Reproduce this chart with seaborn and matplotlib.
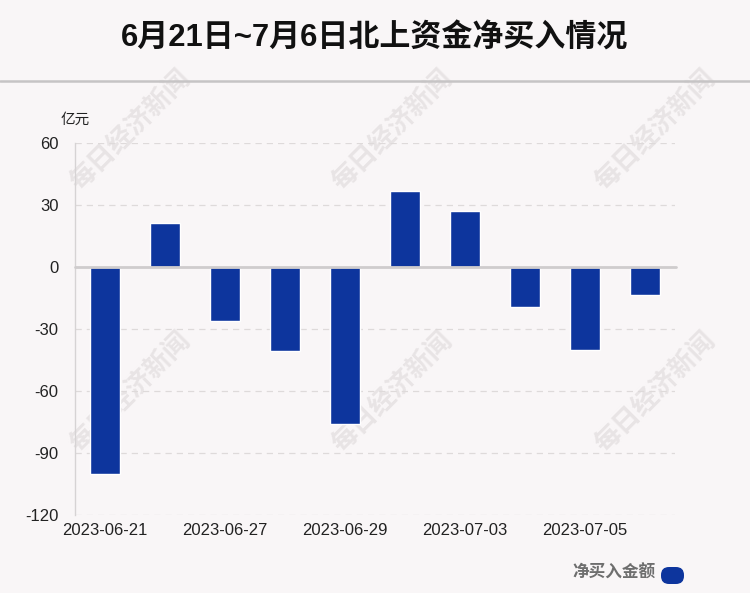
import matplotlib
matplotlib.use("Agg")
import matplotlib.pyplot as plt
import seaborn as sns
import pandas as pd
from matplotlib.lines import Line2D
from matplotlib.patches import FancyBboxPatch
from matplotlib.transforms import IdentityTransform

# -------------------------------
# Data
# -------------------------------

dates = ["2023-06-21", "2023-06-26", "2023-06-27", "2023-06-28", "2023-06-29",
         "2023-06-30", "2023-07-03", "2023-07-04", "2023-07-05", "2023-07-06"]
net_buy = [-100.0, 21.1, -26.0, -40.8, -76.1, 36.8, 26.9, -19.5, -40.3, -13.4]
y_ticks = [60, 30, 0, -30, -60, -90, -120]

df = pd.DataFrame({"date": dates, "net_buy": net_buy})

# -------------------------------
# Style
# -------------------------------

BG = "#f9f6f7"
BAR = "#0d359d"
sns.set_style("white")
plt.rcParams["font.family"] = ["Liberation Sans", "Noto Sans CJK SC", "DejaVu Sans"]

fig = plt.figure(figsize=(7.5, 5.93), dpi=100, facecolor=BG)
ax = fig.add_axes([0.1, 0.1315, 0.8, 0.6274])
ax.set_facecolor("none")

sns.barplot(data=df, x="date", y="net_buy", color=BAR, width=0.5,
            saturation=1, ax=ax, zorder=3)

ax.set_xlim(-0.5, len(dates) - 0.5)
ax.set_ylim(-120, 60)
ax.set_yticks(y_ticks)
ax.set_yticklabels([str(t) for t in y_ticks], fontsize=12, color="#222222")
ax.set_xticks(range(0, len(dates), 2))
ax.set_xticklabels(dates[::2], fontsize=12, color="#222222")
ax.tick_params(axis="both", length=0)
ax.tick_params(axis="y", pad=12)
ax.tick_params(axis="x", pad=6)
ax.set_xlabel("")
ax.set_ylabel("")

for t in y_ticks:
    if t != 0:
        ax.axhline(t, color="#dedada", lw=0.9, ls=(0, (5, 4)), zorder=1)
ax.axhline(0, color="#cfcccd", lw=2, zorder=4, xmax=1.002, clip_on=False)

for side in ["top", "right", "bottom"]:
    ax.spines[side].set_visible(False)
ax.spines["left"].set_color("#d6d3d4")
ax.spines["left"].set_linewidth(1)

ax.text(0.0, 1 + 23 / 372, "亿元", transform=ax.transAxes, ha="center", va="center",
        fontsize=10.5, color="#222222")

# -------------------------------
# Title and decorations
# -------------------------------

fig.text(0.5, 0.935, "6月21日~7月6日北上资金净买入情况", ha="center", va="center",
         fontsize=22.3, fontweight="bold", color="#111111")
fig.add_artist(Line2D([0, 1], [1 - 81 / 593, 1 - 81 / 593], transform=fig.transFigure,
                      color="#c6c4c5", lw=1.8))

wm_pos = [(130, 130), (392, 130), (655, 130), (130, 392), (392, 392), (655, 392)]
for px, py in wm_pos:
    fig.text(px / 750, 1 - py / 593, "每日经济新闻", rotation=45, ha="center", va="center",
             fontsize=19, fontweight="bold", color="#e8e4e5",
             family=["Noto Sans CJK SC"], zorder=-1)

# legend
fig.text(656 / 750, 1 - 573 / 593, "净买入金额", ha="right", va="center",
         fontsize=12, fontweight="bold", color="#6e6e6e")
fig.add_artist(FancyBboxPatch((661, 593 - 584), 23, 17, boxstyle="round,pad=0,rounding_size=8",
                              transform=IdentityTransform(), facecolor=BAR, edgecolor="none"))

fig.savefig("out.png", dpi=100, facecolor=BG)
